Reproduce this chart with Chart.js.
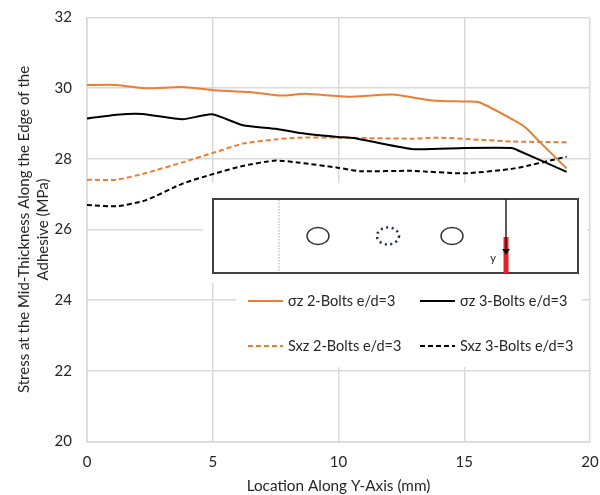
<!DOCTYPE html>
<html>
<head>
<meta charset="utf-8">
<script src="https://cdn.jsdelivr.net/npm/chart.js@4"></script>
<style>
  html, body { margin: 0; padding: 0; background: #fff; }
  #wrap { position: relative; width: 600px; height: 495px; }
</style>
</head>
<body>
<div id="wrap"><canvas id="chart"></canvas></div>
<script>
const yTitle = ['Stress at the Mid-Thickness Along the Edge of the', 'Adhesive (MPa)'];
const xTitle = 'Location Along Y-Axis (mm)';

const sz2x = [0, 1.18, 2.3, 3.8, 4.97, 6.47, 7.7, 8.66, 10.37, 12.15, 13.74, 15, 15.6, 17.08, 17.48, 18, 19.07];
const sz2y = [30.09, 30.09, 30, 30.03, 29.95, 29.89, 29.79, 29.84, 29.76, 29.82, 29.65, 29.62, 29.6, 29.05, 28.86, 28.48, 27.73];

const sz3x = [0, 1.18, 2.2, 3.8, 4.97, 6.2, 7.5, 8.46, 9.97, 10.6, 12.9, 15, 16.9, 17.1, 19.07];
const sz3y = [29.14, 29.25, 29.27, 29.12, 29.26, 28.95, 28.85, 28.73, 28.62, 28.59, 28.28, 28.31, 28.31, 28.25, 27.63];

const sxz2x = [0, 1.18, 2.35, 3.8, 4.97, 6.2, 7.5, 8.46, 9.97, 12.9, 14, 15.6, 16.9, 19.07];
const sxz2y = [27.41, 27.41, 27.6, 27.9, 28.16, 28.43, 28.55, 28.6, 28.6, 28.57, 28.6, 28.54, 28.49, 28.47];

const sxz3x = [0, 1.18, 2.35, 3.8, 4.97, 6.2, 7.5, 8.46, 9.97, 10.85, 12.9, 15, 17, 19.07];
const sxz3y = [26.69, 26.66, 26.83, 27.3, 27.56, 27.8, 27.95, 27.89, 27.75, 27.65, 27.66, 27.59, 27.73, 28.06];

const toPoints = (xs, ys) => xs.map((x, i) => ({ x: x, y: ys[i] }));

const FONT = 'Lato, "Open Sans", sans-serif';
const TEXT = '#262626';
const ORANGE = '#ED7D31';
const BLACK = '#000000';
const GRID = '#d9d9d9';

function line(ctx, x1, y1, x2, y2) {
  ctx.beginPath();
  ctx.moveTo(x1, y1);
  ctx.lineTo(x2, y2);
  ctx.stroke();
}

// the pasted sketch and the legend sit on white boxes that hide the grid
const insetPlugin = {
  id: 'inset',
  afterDraw(chart) {
    const ctx = chart.ctx;
    ctx.save();
    ctx.fillStyle = '#fff';
    ctx.fillRect(203, 183, 384, 100);
    ctx.fillRect(236, 283, 346, 84);

    ctx.strokeStyle = '#404040';
    ctx.lineWidth = 2;
    ctx.strokeRect(213, 199, 365, 74);

    ctx.strokeStyle = '#a6a6a6';
    ctx.lineWidth = 1;
    ctx.setLineDash([1.5, 1.5]);
    line(ctx, 279, 200, 279, 272);
    ctx.setLineDash([]);

    ctx.strokeStyle = '#333';
    ctx.lineWidth = 1.5;
    [318, 452].forEach(cx => {
      ctx.beginPath();
      ctx.ellipse(cx, 236, 11, 8.5, 0, 0, Math.PI * 2);
      ctx.stroke();
    });
    ctx.strokeStyle = '#1f3050';
    ctx.lineWidth = 2.5;
    ctx.setLineDash([2, 3.5]);
    ctx.beginPath();
    ctx.ellipse(388, 236, 11, 8.5, 0, 0, Math.PI * 2);
    ctx.stroke();
    ctx.setLineDash([]);

    ctx.strokeStyle = '#ee1c25';
    ctx.lineWidth = 5;
    line(ctx, 506, 237, 506, 273);
    ctx.strokeStyle = '#222';
    ctx.lineWidth = 1.5;
    line(ctx, 506, 199, 506, 250);
    ctx.fillStyle = '#111';
    ctx.beginPath();
    ctx.moveTo(502, 249);
    ctx.lineTo(510, 249);
    ctx.lineTo(506, 255);
    ctx.closePath();
    ctx.fill();

    ctx.fillStyle = TEXT;
    ctx.font = '11px ' + FONT;
    ctx.textAlign = 'center';
    ctx.textBaseline = 'middle';
    ctx.fillText('y', 493, 258);

    // legend, two by two
    const slots = [[248, 301], [420, 301], [248, 346], [420, 346]];
    ctx.font = '14.5px ' + FONT;
    ctx.textAlign = 'left';
    chart.data.datasets.forEach((ds, i) => {
      const [lx, ly] = slots[i];
      ctx.strokeStyle = ds.borderColor;
      ctx.lineWidth = 2;
      ctx.setLineDash(ds.borderDash || []);
      line(ctx, lx, ly, lx + 35, ly);
      ctx.setLineDash([]);
      ctx.fillStyle = TEXT;
      ctx.fillText(ds.label, lx + 40, ly);
    });
    ctx.restore();
  }
};

new Chart(document.getElementById('chart'), {
  type: 'line',
  data: {
    datasets: [
      { label: 'σz 2-Bolts e/d=3', data: toPoints(sz2x, sz2y), borderColor: ORANGE },
      { label: 'σz 3-Bolts e/d=3', data: toPoints(sz3x, sz3y), borderColor: BLACK },
      { label: 'Sxz 2-Bolts e/d=3', data: toPoints(sxz2x, sxz2y), borderColor: ORANGE, borderDash: [5, 3] },
      { label: 'Sxz 3-Bolts e/d=3', data: toPoints(sxz3x, sxz3y), borderColor: BLACK, borderDash: [5, 3] }
    ]
  },
  options: {
    responsive: true,
    maintainAspectRatio: false,
    animation: false,
    layout: { padding: { top: 17.5, right: 10, left: 0, bottom: 0 } },
    elements: {
      point: { radius: 0 },
      line: { borderWidth: 2, tension: 0.2, fill: false }
    },
    plugins: {
      legend: { display: false },
      tooltip: { enabled: false }
    },
    scales: {
      x: {
        type: 'linear',
        min: 0,
        max: 20,
        afterFit(scale) {
          scale.height = 53.5;
          scale.paddingLeft = 0;
          scale.paddingRight = 0;
        },
        grid: { color: GRID, lineWidth: 1.5, drawTicks: false },
        border: { color: GRID, width: 1.5 },
        ticks: { stepSize: 5, color: TEXT, padding: 12, maxRotation: 0, font: { family: FONT, size: 15 } },
        title: { display: true, text: xTitle, color: TEXT, padding: { top: 4, bottom: 0 }, font: { family: FONT, size: 15.3 } }
      },
      y: {
        min: 20,
        max: 32,
        afterFit(scale) {
          scale.width = 87;
          scale.paddingTop = 0;
          scale.paddingBottom = 0;
        },
        grid: { color: GRID, lineWidth: 1.5, drawTicks: false },
        border: { color: GRID, width: 1.5 },
        ticks: { stepSize: 2, color: TEXT, padding: 15, font: { family: FONT, size: 15 } },
        title: { display: true, text: yTitle, color: TEXT, padding: { top: 14, bottom: 0 }, font: { family: FONT, size: 15, lineHeight: 1.3 } }
      }
    }
  },
  plugins: [insetPlugin]
});
</script>
</body>
</html>
